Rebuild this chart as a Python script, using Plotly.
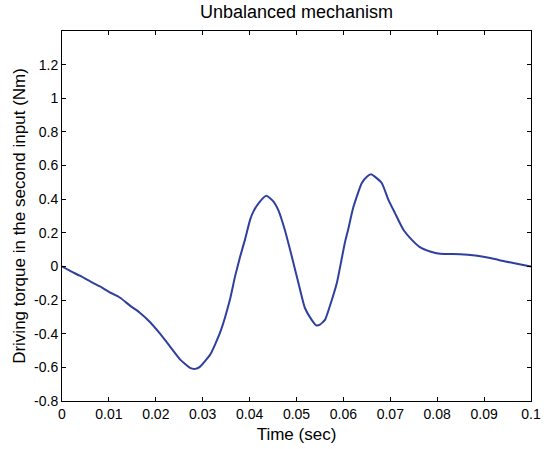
import plotly.graph_objects as go

time_s = [0.0, 0.0017, 0.0038, 0.0060, 0.0081, 0.0102, 0.0124, 0.0145, 0.0166, 0.0188,
          0.0209, 0.0230, 0.0252, 0.0273, 0.0284, 0.0294, 0.0316, 0.0337, 0.0358, 0.0369,
          0.0380, 0.0390, 0.0401, 0.0408, 0.0422, 0.0436, 0.0451, 0.0461, 0.0475, 0.0490,
          0.0504, 0.0518, 0.0532, 0.0542, 0.0550, 0.0561, 0.0571, 0.0586, 0.0596, 0.0603,
          0.0610, 0.0621, 0.0639, 0.0650, 0.0659, 0.0667, 0.0682, 0.0696, 0.0710, 0.0728,
          0.0746, 0.0763, 0.0785, 0.0806, 0.0849, 0.0881, 0.0913, 0.0945, 0.0970, 0.1]
torque_nm = [0.0, -0.026, -0.055, -0.089, -0.119, -0.154, -0.186, -0.233, -0.275, -0.332,
             -0.400, -0.475, -0.554, -0.603, -0.609, -0.597, -0.524, -0.394, -0.198, -0.059,
             0.06, 0.158, 0.277, 0.326, 0.386, 0.42, 0.386, 0.336, 0.218, 0.059,
             -0.097, -0.247, -0.316, -0.35, -0.346, -0.316, -0.237, -0.099, 0.04, 0.139,
             0.218, 0.35, 0.495, 0.534, 0.548, 0.534, 0.495, 0.396, 0.317, 0.218,
             0.158, 0.115, 0.089, 0.075, 0.073, 0.065, 0.05, 0.03, 0.016, 0.0]

x_tickvals = [0, 0.01, 0.02, 0.03, 0.04, 0.05, 0.06, 0.07, 0.08, 0.09, 0.1]
x_ticktext = ["0", "0.01", "0.02", "0.03", "0.04", "0.05", "0.06", "0.07", "0.08", "0.09", "0.1"]
y_tickvals = [-0.8, -0.6, -0.4, -0.2, 0, 0.2, 0.4, 0.6, 0.8, 1.0, 1.2]
y_ticktext = ["-0.8", "-0.6", "-0.4", "-0.2", "0", "0.2", "0.4", "0.6", "0.8", "1", "1.2"]

font = "Liberation Sans, Arial, Helvetica, sans-serif"

fig = go.Figure()
fig.add_trace(go.Scatter(x=time_s, y=torque_nm, mode="lines",
                         line=dict(color="#2E3F9F", width=2, shape="spline", smoothing=0.5),
                         showlegend=False))

axis_common = dict(showline=True, linecolor="black", linewidth=1, mirror="ticks",
                   ticks="inside", ticklen=4, tickcolor="black", tickwidth=1,
                   showgrid=False, zeroline=False, automargin=False,
                   tickfont=dict(family=font, size=14, color="black"))

fig.update_layout(
    width=544, height=449,
    margin=dict(l=62, r=13, t=31, b=47.5, autoexpand=False),
    paper_bgcolor="white", plot_bgcolor="white",
    title=dict(text="Unbalanced mechanism", x=0.5, xref="paper", xanchor="center",
               y=1 - 12 / 449, yref="container", yanchor="middle",
               font=dict(family=font, size=18, color="black")),
    xaxis=dict(range=[0, 0.1], tickvals=x_tickvals, ticktext=x_ticktext,
               title=dict(text="Time (sec)", font=dict(family=font, size=17, color="black"), standoff=7),
               **axis_common),
    yaxis=dict(range=[-0.8, 1.4], tickvals=y_tickvals, ticktext=y_ticktext,
               title=dict(text="Driving torque in the second input (Nm)",
                          font=dict(family=font, size=17, color="black"), standoff=4),
               **axis_common),
)

fig.write_html("out.html", config={"displayModeBar": False},
               post_script="document.body.style.margin='0';document.body.style.overflow='hidden';")
